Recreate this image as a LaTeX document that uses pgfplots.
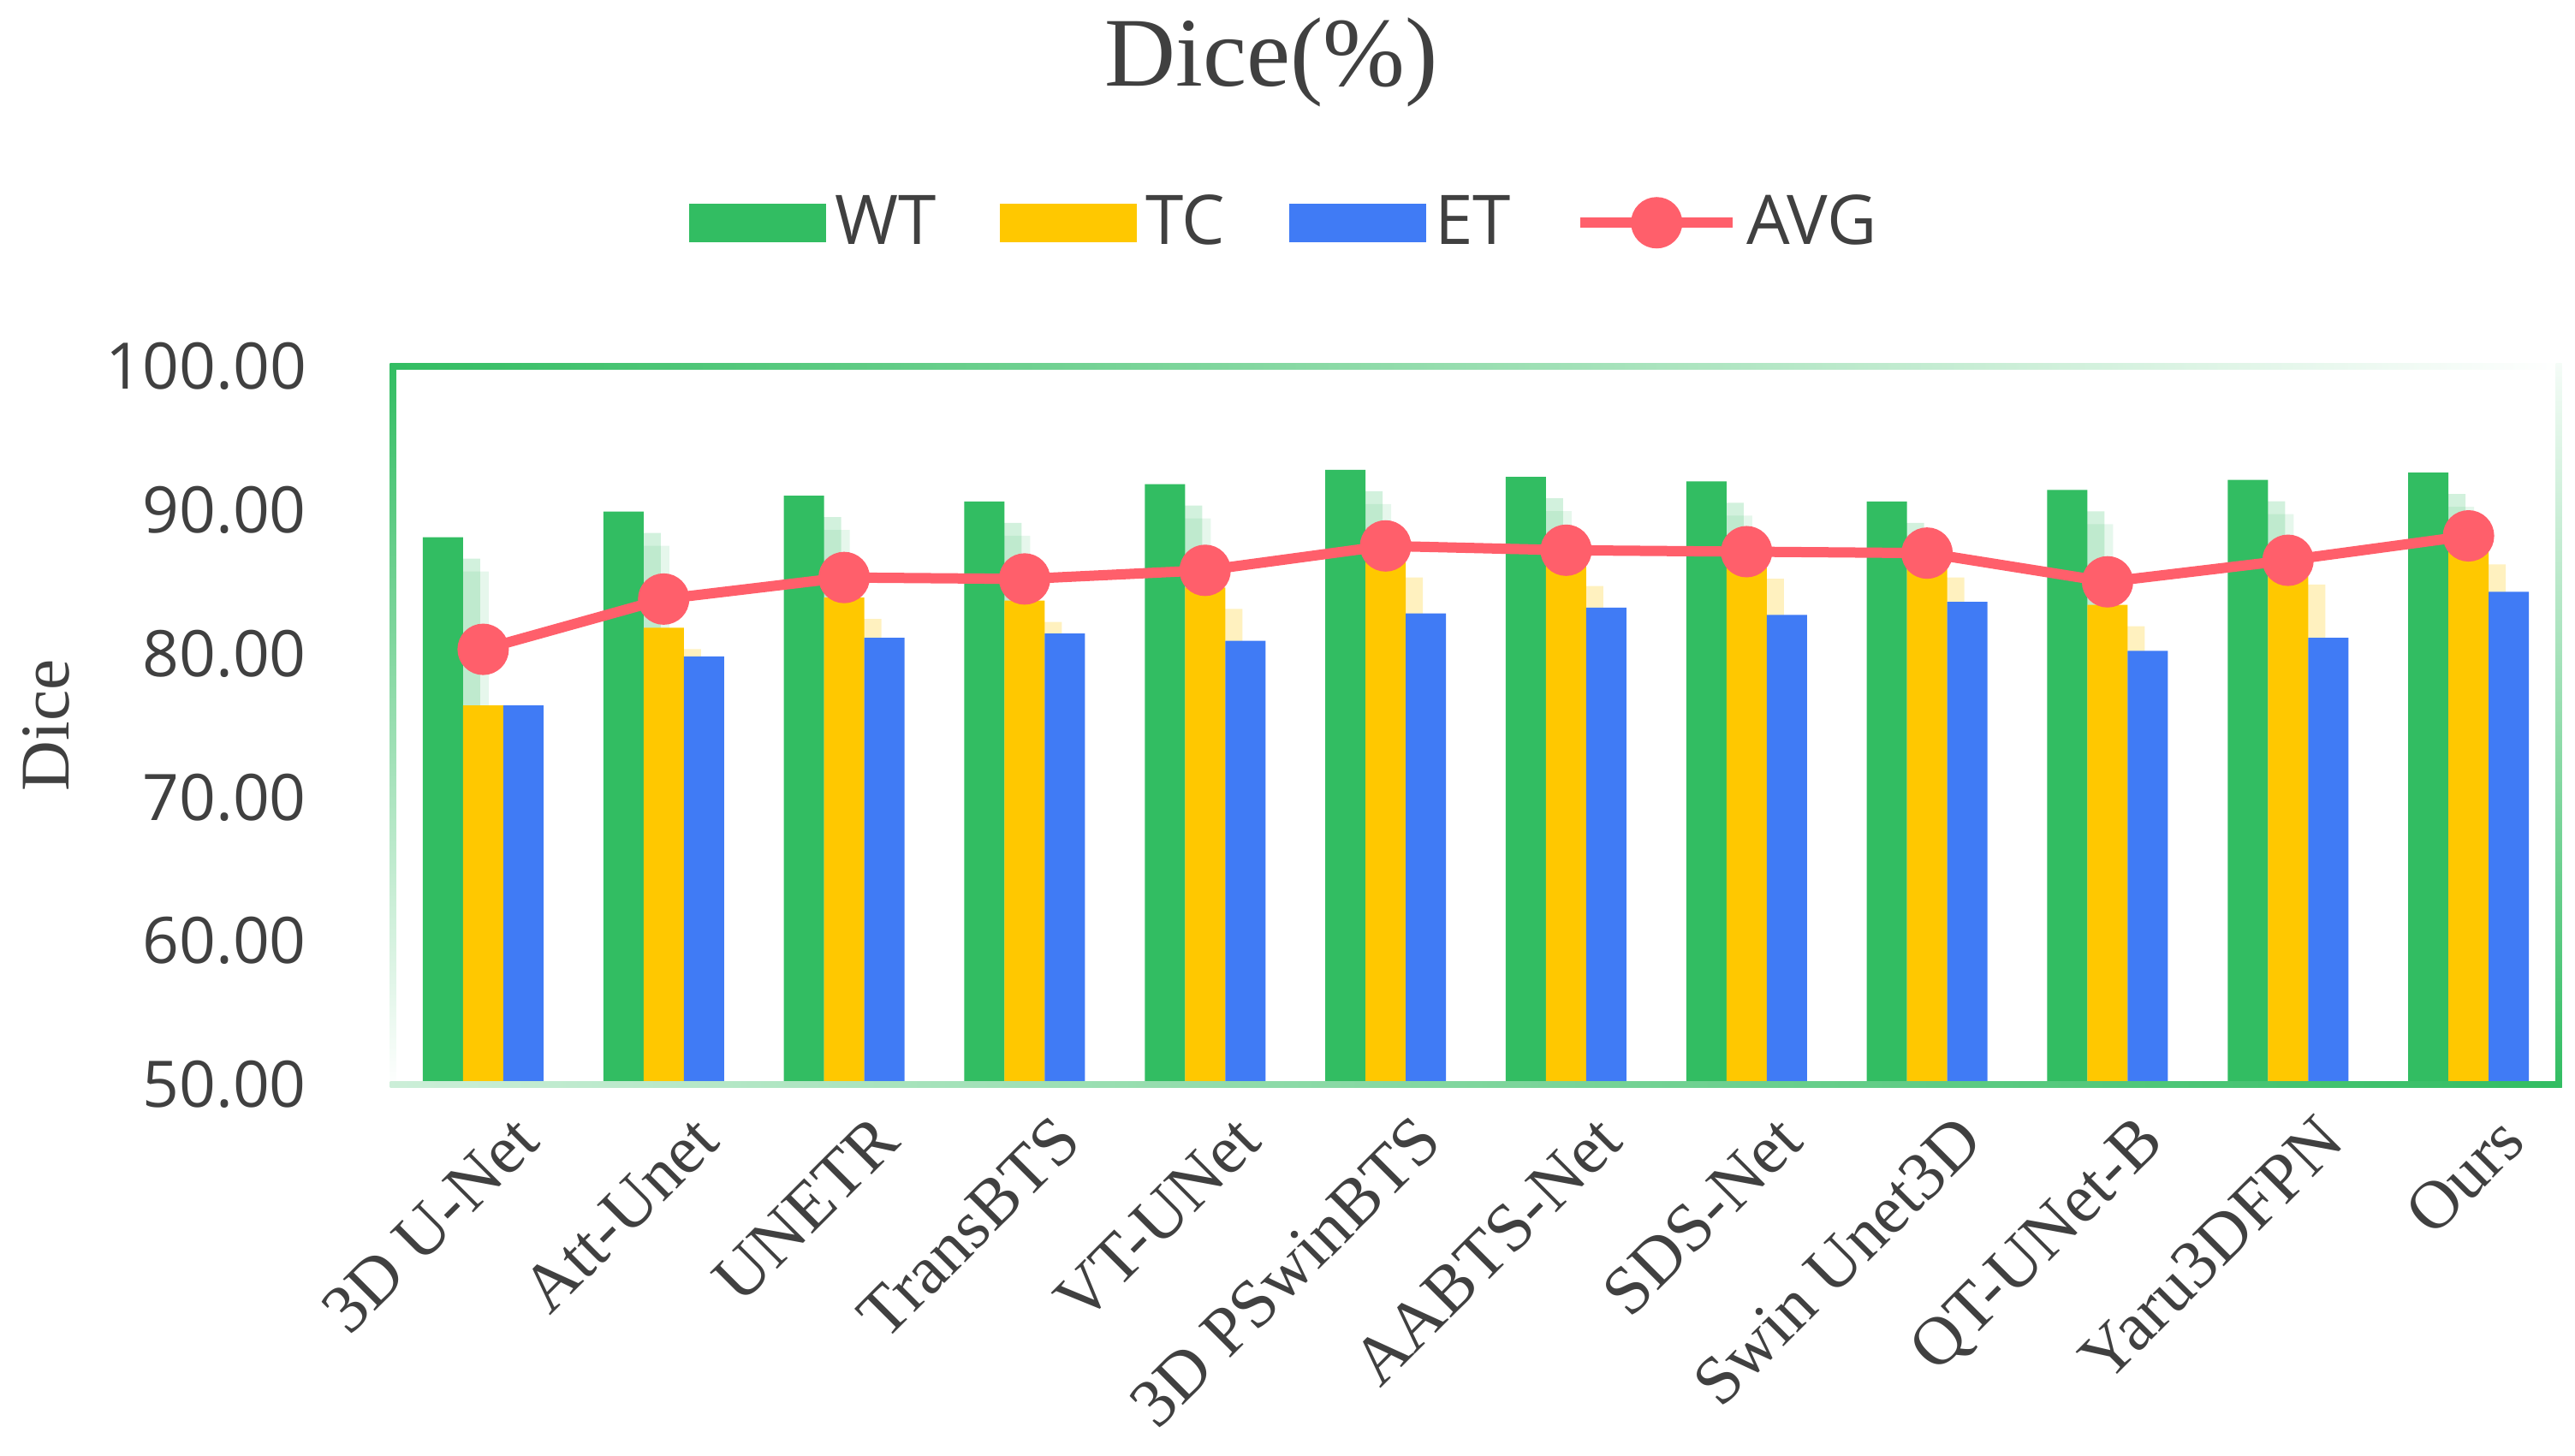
\documentclass[border=0pt]{standalone}
\usepackage{fontspec}
\setmainfont{Liberation Serif}
\newfontfamily\osans{Open Sans}
\usepackage{pgfplots}
\pgfplotsset{compat=1.18}
\usepackage{pgfplotstable}
\definecolor{cWT}{RGB}{50,189,98}
\definecolor{cTC}{RGB}{255,200,0}
\definecolor{cET}{RGB}{64,123,245}
\definecolor{cAVG}{RGB}{255,95,107}
\definecolor{txt}{RGB}{64,64,64}

\pgfplotstableread[col sep=comma]{
x,WT,TC,ET,AVG
1,88.1,76.4,76.4,80.3
2,89.9,81.8,79.8,83.8
3,91.0,83.9,81.1,85.3
4,90.6,83.7,81.4,85.2
5,91.8,84.6,80.9,85.8
6,92.8,86.8,82.8,87.5
7,92.3,86.2,83.2,87.2
8,92.0,86.7,82.7,87.1
9,90.6,86.8,83.6,87.0
10,91.4,83.4,80.2,85.0
11,92.1,86.3,81.1,86.5
12,92.6,87.7,84.3,88.2
}\dice

\begin{document}
\begin{tikzpicture}
\path[use as bounding box] (-91.8pt,-86.6pt) rectangle (509.8pt,253.4pt);
\begin{axis}[
  at={(0pt,0pt)}, anchor=south west,
  scale only axis, width=506pt, height=167.8pt,
  xmin=0.5, xmax=12.5, ymin=50, ymax=100,
  ybar=0pt, bar width=9.4pt,
  axis line style={draw=none},
  major tick length=0pt,
  ytick={50,60,...,100},
  xtick={1,...,12},
  xticklabels={3D U-Net, Att-Unet, UNETR, TransBTS, VT-UNet, 3D PSwinBTS, AABTS-Net, SDS-Net, Swin Unet3D, QT-UNet-B, Yaru3DFPN, Ours},
  yticklabel style={font=\osans\fontsize{15}{18}\selectfont, text=txt, xshift=-16.7pt,
    /pgf/number format/fixed, /pgf/number format/fixed zerofill, /pgf/number format/precision=2,
    /pgf/number format/assume math mode=true},
  xticklabel style={font=\fontsize{16}{19}\selectfont, text=txt, rotate=45, anchor=north east, inner sep=0pt, yshift=-8.8pt},
  legend style={draw=none, fill=none, at={(0.413,1.2)}, anchor=center, legend columns=4,
    font=\osans\fontsize{16}{19}\selectfont, text=txt,
    /tikz/every even column/.append style={column sep=13pt}},
  legend cell align=left,
]
% soft shadows
\addplot[forget plot, fill=cWT, fill opacity=0.22, draw=none, bar shift=-5.4pt, yshift=-5pt] table[x=x,y=WT]{\dice};
\addplot[forget plot, fill=cWT, fill opacity=0.12, draw=none, bar shift=-3.4pt, yshift=-8pt] table[x=x,y=WT]{\dice};
\addplot[forget plot, fill=cTC, fill opacity=0.25, draw=none, bar shift=4pt, yshift=-5pt] table[x=x,y=TC]{\dice};
% bars
\addplot[fill=cWT, draw=none, bar shift=-9.4pt, legend image code/.code={\fill[cWT] (0pt,-4.5pt) rectangle (32pt,4.5pt);}] table[x=x,y=WT]{\dice};
\addplot[fill=cTC, draw=none, bar shift=0pt, legend image code/.code={\fill[cTC] (0pt,-4.5pt) rectangle (32pt,4.5pt);}] table[x=x,y=TC]{\dice};
\addplot[fill=cET, draw=none, bar shift=9.4pt, legend image code/.code={\fill[cET] (0pt,-4.5pt) rectangle (32pt,4.5pt);}] table[x=x,y=ET]{\dice};
\addplot[sharp plot, draw=cAVG, line width=2.4pt, mark=*, mark size=4.8pt,
  mark options={fill=cAVG, draw=none},
  legend image code/.code={\draw[cAVG, line width=2.4pt] (0pt,0pt) -- (35.6pt,0pt); \fill[cAVG] (17.8pt,0pt) circle (4.8pt);}]
  table[x=x,y=AVG]{\dice};
\legend{WT,TC,ET,AVG}
\end{axis}
% gradient frame
\shade[left color=cWT, right color=white] (-0.7pt,167.1pt) rectangle (506.7pt,168.5pt);
\shade[top color=cWT, bottom color=white] (-0.7pt,-0.7pt) rectangle (0.7pt,168.5pt);
\shade[left color=cWT!25, right color=cWT] (-0.7pt,-0.7pt) rectangle (506.7pt,0.7pt);
\shade[top color=cWT!5, bottom color=cWT] (505.3pt,-0.7pt) rectangle (506.7pt,168.5pt);
% title and y label
\node[font=\fontsize{23}{28}\selectfont, text=txt] at (205.2pt,238.8pt) {Dice(\%)};
\node[font=\fontsize{16.3}{20}\selectfont, text=txt, rotate=90] at (-81pt,83.9pt) {Dice};
\end{tikzpicture}
\end{document}
